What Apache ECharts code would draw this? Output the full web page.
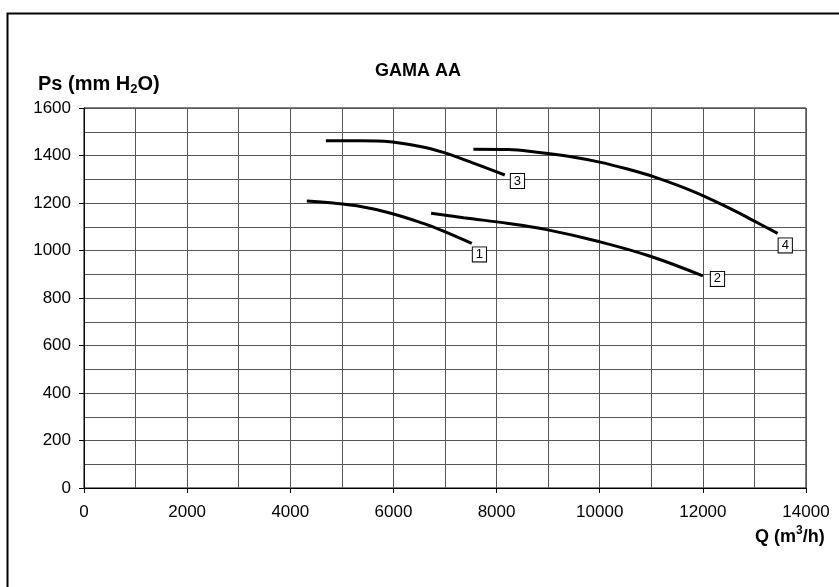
<!DOCTYPE html>
<html>
<head>
<meta charset="utf-8">
<script src="https://cdn.jsdelivr.net/npm/echarts@6/dist/echarts.min.js"></script>
<style>html,body{margin:0;padding:0;background:#fff}#c{width:839px;height:587px}</style>
</head>
<body>
<div id="c"></div>
<script>
// Curve data (Q in m3/h, Ps in mm H2O)
const q1 = [4320, 4830, 5290, 5930, 6580, 6970, 7520];
const p1 = [1208, 1200, 1188, 1158, 1114, 1082, 1030];
const q2 = [6730, 7360, 8230, 8970, 9940, 10980, 12000];
const p2 = [1157, 1138, 1114, 1088, 1040, 976, 893];
const q3 = [4690, 5680, 6520, 6970, 7550, 8160];
const p3 = [1462, 1461, 1438, 1413, 1368, 1318];
const q4 = [7550, 8230, 8780, 9420, 10000, 10520, 11040, 11820, 12590, 12980, 13450];
const p4 = [1426, 1425, 1414, 1396, 1372, 1344, 1311, 1248, 1170, 1126, 1072];
const curveNames = ['1', '2', '3', '4'];
const xTicks = [0, 2000, 4000, 6000, 8000, 10000, 12000, 14000];
const yTicks = [0, 200, 400, 600, 800, 1000, 1200, 1400, 1600];

const FONT = "'Liberation Sans', Arial, sans-serif";
const labelOffsets = [[1, 11], [8, 3], [6, 6], [1, 12]];
const qs = [q1, q2, q3, q4], ps = [p1, p2, p3, p4];

const series = qs.map((q, i) => ({
  type: 'line',
  name: curveNames[i],
  data: q.map((v, j) => [v, ps[i][j]]),
  smooth: 0.4,
  showSymbol: false,
  lineStyle: { color: '#000', width: 3 },
  itemStyle: { color: '#000' },
  silent: true,
  endLabel: {
    show: true,
    formatter: curveNames[i],
    distance: 0,
    offset: labelOffsets[i],
    color: '#000',
    fontFamily: FONT,
    fontSize: 13,
    backgroundColor: '#fff',
    borderColor: '#000',
    borderWidth: 1,
    padding: [1, 3, 0, 3]
  }
}));

const chart = echarts.init(document.getElementById('c'));
chart.setOption({
  animation: false,
  backgroundColor: '#fff',
  graphic: [{
    type: 'rect', left: 5, top: 11, silent: true,
    shape: { width: 900, height: 700 },
    style: { fill: 'none', stroke: '#000', lineWidth: 2 }
  }],
  title: [{
    text: 'GAMA AA', left: 370, top: 57,
    textStyle: { fontFamily: FONT, fontWeight: 'bold', fontSize: 18, color: '#000' }
  }, {
    text: '{m|Ps (mm H}{s|2}{m|O)}', left: 33, top: 67,
    textStyle: {
      rich: {
        m: { fontFamily: FONT, fontWeight: 'bold', fontSize: 20, lineHeight: 24, color: '#000' },
        s: { fontFamily: FONT, fontWeight: 'bold', fontSize: 13, lineHeight: 13, verticalAlign: 'bottom', color: '#000' }
      }
    }
  }, {
    text: '{m|Q (m}{s|3}{m|/h)}', left: 750, top: 520,
    textStyle: {
      rich: {
        m: { fontFamily: FONT, fontWeight: 'bold', fontSize: 18, lineHeight: 24, color: '#000' },
        s: { fontFamily: FONT, fontWeight: 'bold', fontSize: 12, lineHeight: 12, verticalAlign: 'top', color: '#000' }
      }
    }
  }],
  grid: { left: 84, right: 33, top: 108, bottom: 99, show: true, borderColor: '#000', borderWidth: 1 },
  xAxis: {
    type: 'value', min: xTicks[0], max: xTicks[xTicks.length - 1], interval: 2000,
    axisLine: { show: true, lineStyle: { color: '#000', width: 1 } },
    axisTick: { show: true, length: 5, lineStyle: { color: '#000' } },
    axisLabel: { color: '#000', fontFamily: FONT, fontSize: 17, margin: 16, formatter: v => String(v) },
    splitLine: { show: true, lineStyle: { color: '#555', width: 1 } },
    minorSplitLine: { show: true, lineStyle: { color: '#555', width: 1 } },
    minorTick: { show: false, splitNumber: 2 }
  },
  yAxis: {
    type: 'value', min: yTicks[0], max: yTicks[yTicks.length - 1], interval: 200,
    axisLine: { show: true, lineStyle: { color: '#000', width: 1 } },
    axisTick: { show: true, length: 5, lineStyle: { color: '#000' } },
    axisLabel: { color: '#000', fontFamily: FONT, fontSize: 17, margin: 13, formatter: v => String(v) },
    splitLine: { show: true, lineStyle: { color: '#555', width: 1 } },
    minorSplitLine: { show: true, lineStyle: { color: '#555', width: 1 } },
    minorTick: { show: false, splitNumber: 2 }
  },
  series: series
});
</script>
</body>
</html>
